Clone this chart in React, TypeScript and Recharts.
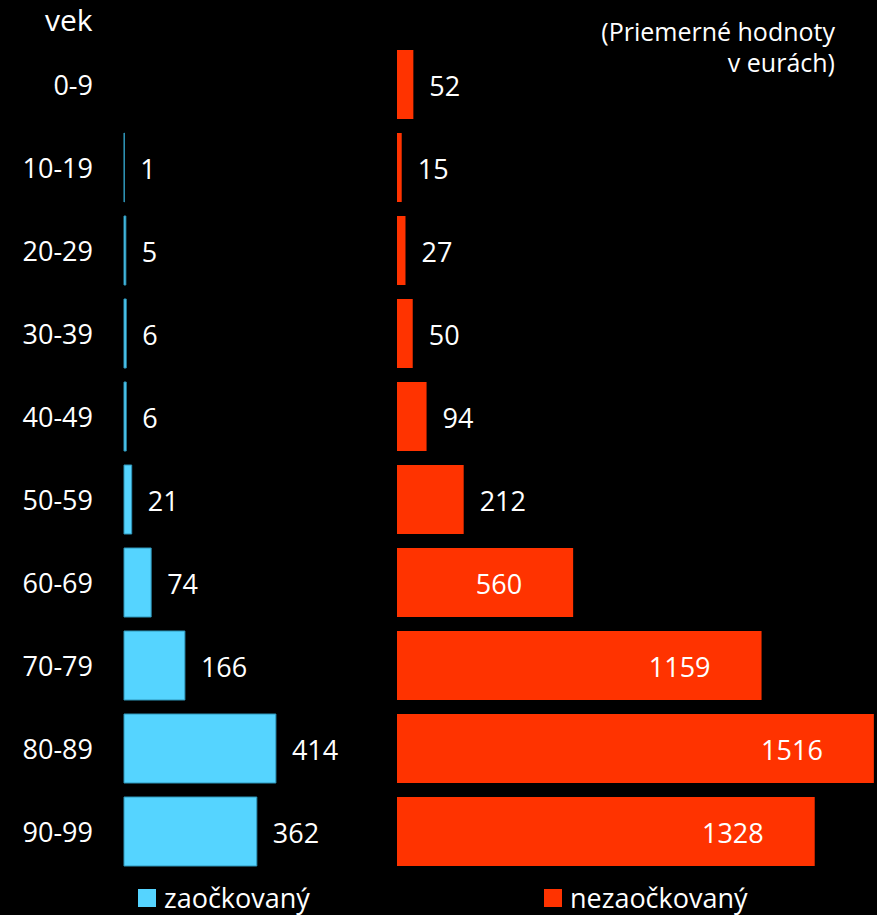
import React from 'react';
import { BarChart, Bar, XAxis, YAxis, LabelList } from 'recharts';

// age groups, top to bottom
const ageGroups = ['0-9', '10-19', '20-29', '30-39', '40-49', '50-59', '60-69', '70-79', '80-89', '90-99'];
// average values in euros
const vaccinated = [null, 1, 5, 6, 6, 21, 74, 166, 414, 362];
const unvaccinated = [52, 15, 27, 50, 94, 212, 560, 1159, 1516, 1328];

const FONT = '"Open Sans", sans-serif';
const CYAN = '#55D4FF';
const RED = '#FF3300';

const rows = ageGroups.map((age, i) => ({
  age,
  vaccinated: vaccinated[i],
  unvaccinated: unvaccinated[i],
}));

const AgeTick = ({ x, y, payload }: any) => (
  <text x={x} y={y} textAnchor="end" dominantBaseline="central" fill="#fff" fontSize={27} fontFamily={FONT}>
    {payload.value}
  </text>
);

const leftLabel = ({ x, y, width, height, value }: any) => {
  if (value == null) return null;
  return (
    <text x={x + width + 16} y={y + height / 2 + 1} dominantBaseline="central" fill="#fff" fontSize={27} fontFamily={FONT}>
      {value}
    </text>
  );
};

const rightLabel = ({ x, y, width, height, value }: any) => {
  const inside = value >= 500;
  return (
    <text
      x={inside ? x + width - 51 : x + width + 16}
      y={y + height / 2 + 1}
      textAnchor={inside ? 'end' : 'start'}
      dominantBaseline="central"
      fill="#fff"
      fontSize={27}
      fontFamily={FONT}
    >
      {value}
    </text>
  );
};

const margin = { top: 43, right: 0, bottom: 42, left: 0 };

export default function App() {
  return (
    <div style={{ position: 'absolute', left: 0, top: 0, width: 877, height: 915, background: '#000', overflow: 'hidden', fontFamily: FONT, color: '#fff' }}>
      <div style={{ position: 'absolute', left: 45, top: 0, fontSize: 30, lineHeight: '40px' }}>vek</div>
      <div style={{ position: 'absolute', right: 42, top: 16, fontSize: 25, lineHeight: '31px', textAlign: 'right' }}>
        (Priemerné hodnoty
        <br />v eurách)
      </div>

      <div style={{ position: 'absolute', left: 0, top: 0 }}>
        <BarChart width={390} height={915} data={rows} layout="vertical" margin={margin} barSize={69}>
          <XAxis type="number" hide domain={[0, 725]} />
          <YAxis type="category" dataKey="age" width={124} axisLine={false} tickLine={false} tick={<AgeTick />} tickMargin={25} />
          <Bar dataKey="vaccinated" fill={CYAN} stroke="#2F95B8" strokeWidth={1} isAnimationActive={false}>
            <LabelList dataKey="vaccinated" content={leftLabel} />
          </Bar>
        </BarChart>
      </div>

      <div style={{ position: 'absolute', left: 397, top: 0 }}>
        <BarChart width={480} height={915} data={rows} layout="vertical" margin={margin} barSize={69}>
          <XAxis type="number" hide domain={[0, 1526]} />
          <YAxis type="category" dataKey="age" hide />
          <Bar dataKey="unvaccinated" fill={RED} isAnimationActive={false}>
            <LabelList dataKey="unvaccinated" content={rightLabel} />
          </Bar>
        </BarChart>
      </div>

      <div style={{ position: 'absolute', left: 138, top: 879, display: 'flex', alignItems: 'center', fontSize: 27 }}>
        <span style={{ width: 18, height: 18, background: CYAN, marginRight: 8 }} />
        zaočkovaný
      </div>
      <div style={{ position: 'absolute', left: 544, top: 879, display: 'flex', alignItems: 'center', fontSize: 27 }}>
        <span style={{ width: 18, height: 18, background: RED, marginRight: 8 }} />
        nezaočkovaný
      </div>
    </div>
  );
}
